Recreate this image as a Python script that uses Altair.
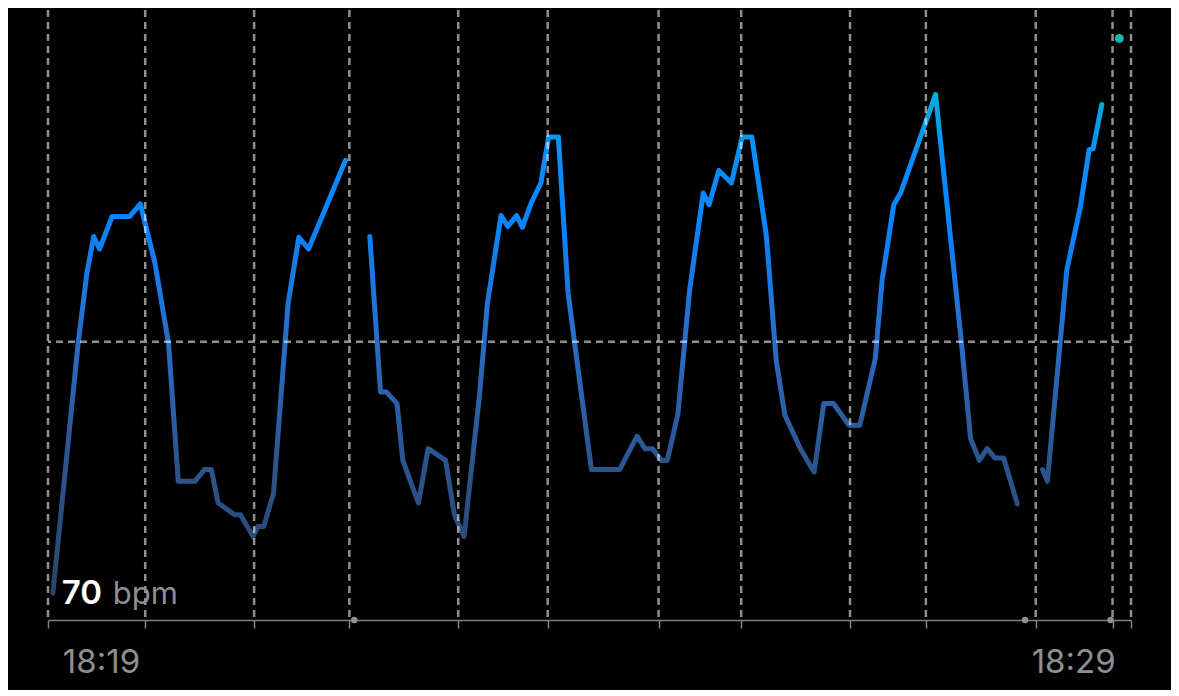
import altair as alt
import pandas as pd

# Heart-rate samples (clock minutes after 18:00) and bpm; None marks a pause gap
time_min = [18.50, 18.76, 18.85, 18.92, 18.98, 19.11, 19.29, 19.40, 19.55, 19.69,
            19.79, 19.96, 20.06, 20.13, 20.20, 20.37, 20.43, 20.56, 20.61, 20.67,
            20.77, 20.92, 21.03, 21.13, 21.51,
            21.60,
            21.76, 21.87, 21.93, 22.04, 22.10, 22.26, 22.36, 22.54, 22.63, 22.73,
            22.89, 22.97, 23.11, 23.18, 23.27, 23.33, 23.42, 23.52, 23.60, 23.70,
            23.80, 23.89, 24.04, 24.33, 24.51, 24.59, 24.67, 24.76, 24.82, 24.93,
            25.05, 25.19, 25.25, 25.35, 25.48, 25.59, 25.69, 25.84, 25.94, 26.03,
            26.19, 26.33, 26.43, 26.53, 26.69, 26.80, 26.96, 27.03, 27.15, 27.22,
            27.58, 27.85, 27.94, 28.03, 28.11, 28.19, 28.28, 28.42,
            28.55,
            28.68, 28.73, 28.93, 29.07, 29.16, 29.20, 29.29]
bpm = [70.2, 100.1, 108.5, 112.9, 111.4, 115.3, 115.3, 116.8, 109.7, 100.1,
       83.6, 83.6, 85.0, 85.0, 81.0, 79.6, 79.6, 77.0, 78.2, 78.2,
       82.2, 104.9, 112.8, 111.4, 122.0,
       None,
       112.9, 94.3, 94.3, 92.9, 86.1, 81.0, 87.5, 86.1, 79.6, 77.0,
       94.1, 104.9, 115.4, 114.1, 115.4, 114.0, 116.9, 119.3, 124.8, 124.8,
       106.1, 98.1, 85.0, 85.0, 89.0, 87.5, 87.5, 86.1, 86.1, 91.7,
       106.5, 118.1, 116.7, 120.8, 119.3, 124.8, 124.8, 112.9, 98.1, 91.5,
       87.5, 84.7, 92.9, 92.9, 90.3, 90.3, 98.3, 107.7, 116.7, 118.1,
       129.9, 99.7, 88.7, 86.1, 87.5, 86.4, 86.4, 80.9,
       None,
       85.0, 83.6, 108.9, 116.5, 123.3, 123.4, 128.7]

# Interval boundaries (vertical dashed lines / axis ticks)
boundaries = [18.45, 19.45, 20.57, 21.55, 22.67, 23.59, 24.73, 25.58,
              26.70, 27.48, 28.61, 29.40, 29.59]
# Pause markers on the time axis
pause_times = [21.60, 28.50, 29.38]
# Latest reading
latest_time = [29.47]
latest_bpm = [136.6]
# Average line
avg_bpm = [100.3]
# Time labels
label_times = [19.0, 29.0]
label_texts = ["18:19", "18:29"]
# Current value readout
current_value = ["70"]
unit_text = ["bpm"]

hr = pd.DataFrame({"t": time_min, "bpm": pd.array(bpm, dtype="Float64").astype(float)})
bounds_df = pd.DataFrame({"t": boundaries})
pause_df = pd.DataFrame({"t": pause_times})
latest_df = pd.DataFrame({"t": latest_time, "bpm": latest_bpm})
avg_df = pd.DataFrame({"bpm": avg_bpm})
labels_df = pd.DataFrame({"t": label_times, "label": label_texts})
value_df = pd.DataFrame({"v": current_value})
unit_df = pd.DataFrame({"u": unit_text})

x_scale = alt.Scale(domain=[18.45, 29.59], nice=False, zero=False)
y_scale = alt.Scale(domain=[67, 140], nice=False, zero=False)

grad = alt.Gradient(
    gradient="linear",
    stops=[
        alt.GradientStop(color="#2a4469", offset=0),
        alt.GradientStop(color="#2c558f", offset=0.27),
        alt.GradientStop(color="#2a6cc4", offset=0.5),
        alt.GradientStop(color="#0a84ff", offset=0.75),
        alt.GradientStop(color="#0a8cfa", offset=0.87),
        alt.GradientStop(color="#02acd8", offset=1),
    ],
    x1=0, x2=0, y1=1, y2=0,
)

GRID = dict(color="white", opacity=0.56, strokeWidth=2.5, strokeDash=[7, 5])

line = alt.Chart(hr).mark_line(
    strokeWidth=5, strokeCap="round", strokeJoin="round", color=grad,
    invalid="break-paths-show-domains",
).encode(
    x=alt.X("t:Q", scale=x_scale,
            axis=alt.Axis(values=boundaries, labels=False, ticks=True, tickSize=8,
                          tickColor="#808085", tickWidth=1.5, domainColor="#808085",
                          domainWidth=1.5, grid=False, title=None)),
    y=alt.Y("bpm:Q", scale=y_scale, axis=None),
)

hrule = alt.Chart(avg_df).mark_rule(**GRID).encode(y=alt.Y("bpm:Q", scale=y_scale))
vrules = alt.Chart(bounds_df).mark_rule(**GRID).encode(x=alt.X("t:Q", scale=x_scale))

pauses = alt.Chart(pause_df).mark_circle(size=42, color="#8e8e93", opacity=1).encode(
    x=alt.X("t:Q", scale=x_scale), y=alt.value(610))

latest = alt.Chart(latest_df).mark_circle(size=80, color="#17b6ad", opacity=1).encode(
    x=alt.X("t:Q", scale=x_scale), y=alt.Y("bpm:Q", scale=y_scale))

time_labels = alt.Chart(labels_df).mark_text(
    font="Inter", fontSize=33, color="#8e8e93", align="center", baseline="alphabetic"
).encode(x=alt.X("t:Q", scale=x_scale), y=alt.value(663), text="label:N")

value_text = alt.Chart(value_df).mark_text(
    font="Inter", fontSize=33, fontWeight=600, color="white", align="left",
    baseline="alphabetic"
).encode(x=alt.value(13.7), y=alt.value(594), text="v:N")

unit = alt.Chart(unit_df).mark_text(
    font="Inter", fontSize=31, color="#8e8e93", align="left", baseline="alphabetic"
).encode(x=alt.value(64.7), y=alt.value(594), text="u:N")

chart = alt.layer(
    line, hrule, vrules, pauses, latest, time_labels, value_text, unit
).properties(
    width=1083, height=610,
    padding={"left": 40, "top": 2, "right": 40, "bottom": 70},
    autosize="none",
    background="#000000",
).configure_view(stroke=None)

chart.save("out.html", embed_options={"renderer": "svg", "actions": False})
